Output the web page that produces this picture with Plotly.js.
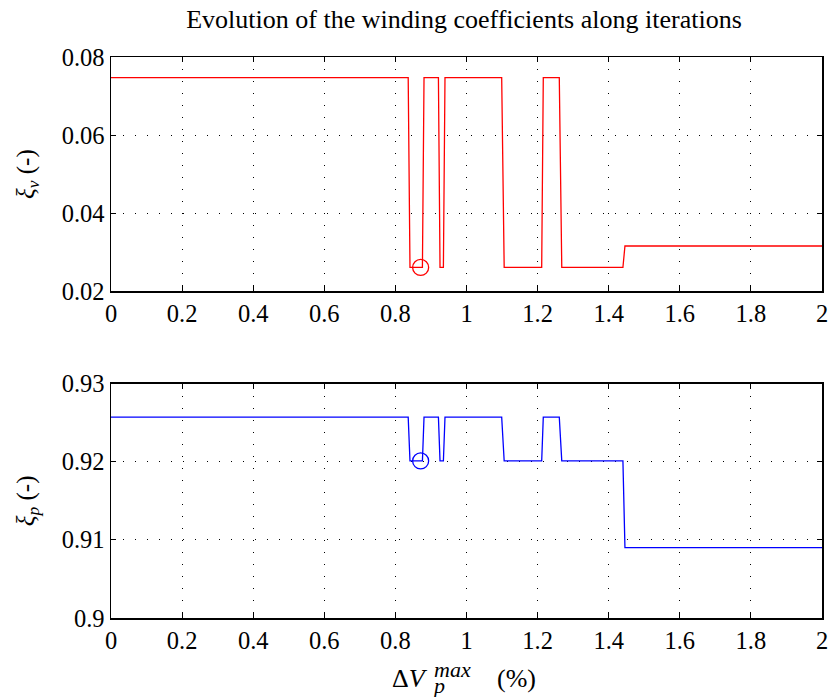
<!DOCTYPE html>
<html>
<head>
<meta charset="utf-8">
<script src="https://cdn.plot.ly/plotly-3.0.1.min.js"></script>
<style>html,body{margin:0;padding:0;background:#fff;}#plot{width:828px;height:697px;}</style>
</head>
<body>
<div id="plot"></div>
<script>
// Iteration parameter (ΔVp max, %) at the step transitions
const dVmax = [0, 0.836, 0.841, 0.876, 0.8805, 0.921, 0.9255, 0.935, 0.9395, 1.099, 1.106, 1.2115, 1.216, 1.261, 1.268, 1.440, 1.4457, 2];
// Winding coefficient of harmonic nu
const xiNu = [0.0747, 0.0747, 0.0261, 0.0261, 0.0747, 0.0747, 0.0261, 0.0261, 0.0747, 0.0747, 0.0261, 0.0261, 0.0747, 0.0747, 0.0261, 0.0261, 0.0316, 0.0316];
// Winding coefficient of fundamental
const xiP = [0.9257, 0.9257, 0.9201, 0.9201, 0.9257, 0.9257, 0.9201, 0.9201, 0.9257, 0.9257, 0.9201, 0.9201, 0.9257, 0.9257, 0.9201, 0.9201, 0.9090, 0.9090];
// Selected point
const selX = [0.871];
const selNu = [0.0261];
const selP = [0.9201];

const xTicks = [0, 0.2, 0.4, 0.6, 0.8, 1, 1.2, 1.4, 1.6, 1.8, 2];
const xTickText = ['0', '0.2', '0.4', '0.6', '0.8', '1', '1.2', '1.4', '1.6', '1.8', '2'];
const yTicksTop = [0.02, 0.04, 0.06, 0.08];
const yTickTextTop = ['0.02', '0.04', '0.06', '0.08'];
const yTicksBot = [0.90, 0.91, 0.92, 0.93];
const yTickTextBot = ['0.9', '0.91', '0.92', '0.93'];

const SERIF = 'Liberation Serif, serif';
const tickFont = {family: SERIF, size: 24.5, color: '#000'};
const gridDash = '1px,11px';

const axisBase = {
  showline: true, linecolor: '#000', linewidth: 1.5, mirror: 'ticks',
  ticks: 'inside', ticklen: 5, tickwidth: 1, tickcolor: '#000',
  showgrid: true, gridcolor: '#000', gridwidth: 1, griddash: gridDash,
  zeroline: false, tickfont: tickFont, ticklabeloverflow: 'allow'
};

const traces = [
  {x: dVmax, y: xiNu, xaxis: 'x', yaxis: 'y', mode: 'lines', line: {color: '#ff0000', width: 1.3}, hoverinfo: 'skip'},
  {x: selX, y: selNu, xaxis: 'x', yaxis: 'y', mode: 'markers', marker: {symbol: 'circle-open', size: 16, color: '#ff0000', line: {width: 1.3, color: '#ff0000'}}},
  {x: dVmax, y: xiP, xaxis: 'x2', yaxis: 'y2', mode: 'lines', line: {color: '#0000ff', width: 1.3}, hoverinfo: 'skip'},
  {x: selX, y: selP, xaxis: 'x2', yaxis: 'y2', mode: 'markers', marker: {symbol: 'circle-open', size: 16, color: '#0000ff', line: {width: 1.3, color: '#0000ff'}}}
];

const layout = {
  width: 828, height: 697,
  margin: {l: 111, r: 6, t: 57, b: 79},
  paper_bgcolor: '#fff', plot_bgcolor: '#fff',
  showlegend: false,
  title: {text: 'Evolution of the winding coefficients along iterations', font: {family: SERIF, size: 26, color: '#000'},
    x: (464 / 828), xanchor: 'center', y: 1 - 19 / 697, yanchor: 'middle'},
  xaxis: Object.assign({}, axisBase, {domain: [0, 1], range: [0, 2], tickvals: xTicks, ticktext: xTickText, anchor: 'y'}),
  yaxis: Object.assign({}, axisBase, {domain: [0.5824, 1], range: [0.02, 0.08], tickvals: yTicksTop, ticktext: yTickTextTop, anchor: 'x',
    title: {text: '<i>ξ<sub>ν</sub></i> (-)', font: {family: SERIF, size: 25, color: '#000'}, standoff: 20}}),
  xaxis2: Object.assign({}, axisBase, {domain: [0, 1], range: [0, 2], tickvals: xTicks, ticktext: xTickText, anchor: 'y2'}),
  yaxis2: Object.assign({}, axisBase, {domain: [0, 0.4178], range: [0.90, 0.93], tickvals: yTicksBot, ticktext: yTickTextBot, anchor: 'x2',
    title: {text: '<i>ξ<sub>p</sub></i> (-)', font: {family: SERIF, size: 25, color: '#000'}, standoff: 20}}),
  annotations: [
    {xref: 'paper', yref: 'paper', x: (430 - 111) / 711.5, y: (618 - 678) / 561, xanchor: 'right', yanchor: 'middle', showarrow: false,
     text: 'Δ<i>V</i>', font: {family: SERIF, size: 26, color: '#000'}},
    {xref: 'paper', yref: 'paper', x: (432 - 111) / 711.5, y: (618 - 669) / 561, xanchor: 'left', yanchor: 'middle', showarrow: false,
     text: '<i>max</i>', font: {family: SERIF, size: 22, color: '#000'}},
    {xref: 'paper', yref: 'paper', x: (430 - 111) / 711.5, y: (618 - 685) / 561, xanchor: 'left', yanchor: 'middle', showarrow: false,
     text: '<i>p</i>', font: {family: SERIF, size: 22, color: '#000'}},
    {xref: 'paper', yref: 'paper', x: (495 - 111) / 711.5, y: (618 - 678) / 561, xanchor: 'left', yanchor: 'middle', showarrow: false,
     text: '(%)', font: {family: SERIF, size: 26, color: '#000'}}
  ]
};

Plotly.newPlot('plot', traces, layout, {staticPlot: true, displayModeBar: false});
</script>
</body>
</html>
